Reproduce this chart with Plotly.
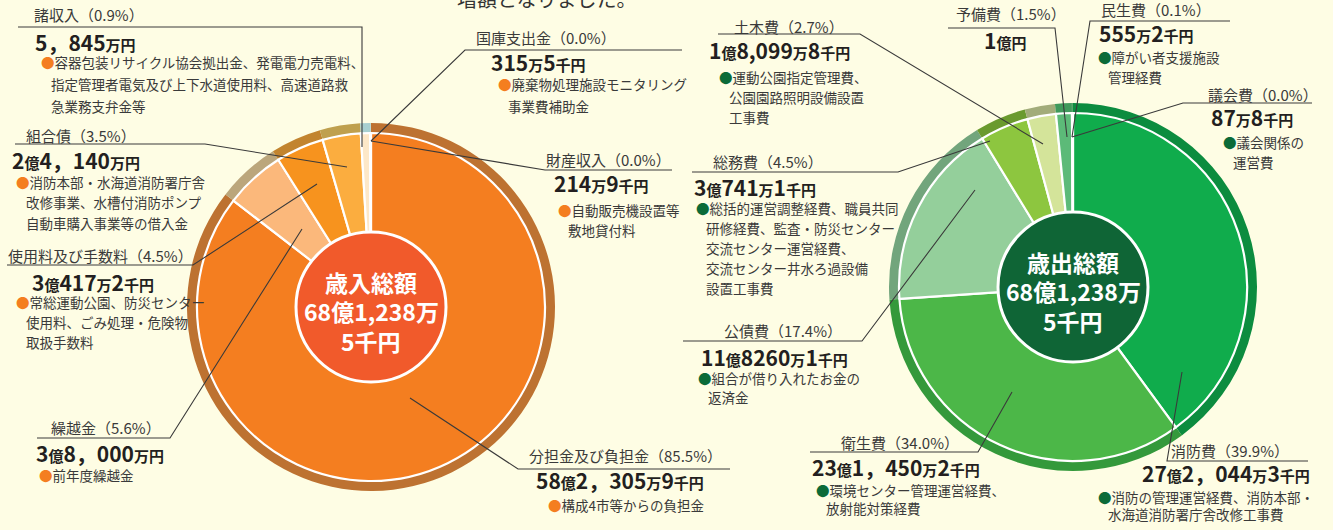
import plotly.graph_objects as go

W, H = 1333, 530
FONT = "Noto Sans CJK JP"

# ---------------- data (values in 万円) ----------------
rev_labels = ["分担金及び負担金", "繰越金", "使用料及び手数料", "組合債", "諸収入", "財産収入", "国庫支出金"]
rev_values = [582305.9, 38000.0, 30417.2, 24140.0, 5845.0, 214.9, 315.5]
rev_amounts = ["58億2，305万9千円", "3億8，000万円", "3億417万2千円", "2億4，140万円",
               "5，845万円", "214万9千円", "315万5千円"]
rev_notes = [
    ["構成4市等からの負担金"],
    ["前年度繰越金"],
    ["常総運動公園、防災センター", "使用料、ごみ処理・危険物", "取扱手数料"],
    ["消防本部・水海道消防署庁舎", "改修事業、水槽付消防ポンプ", "自動車購入事業等の借入金"],
    ["容器包装リサイクル協会拠出金、発電電力売電料、", "指定管理者電気及び上下水道使用料、高速道路救", "急業務支弁金等"],
    ["自動販売機設置等", "敷地貸付料"],
    ["廃棄物処理施設モニタリング", "事業費補助金"],
]
rev_total = ["歳入総額", "68億1,238万", "5千円"]

exp_labels = ["消防費", "衛生費", "公債費", "総務費", "土木費", "予備費", "民生費", "議会費"]
exp_values = [272044.3, 231450.2, 118260.1, 30741.1, 18099.8, 10000.0, 555.2, 87.8]
exp_amounts = ["27億2，044万3千円", "23億1，450万2千円", "11億8260万1千円", "3億741万1千円",
               "1億8,099万8千円", "1億円", "555万2千円", "87万8千円"]
exp_notes = [
    ["消防の管理運営経費、消防本部・", "水海道消防署庁舎改修工事費"],
    ["環境センター管理運営経費、", "放射能対策経費"],
    ["組合が借り入れたお金の", "返済金"],
    ["総括的運営調整経費、職員共同", "研修経費、監査・防災センター", "交流センター運営経費、",
     "交流センター井水ろ過設備", "設置工事費"],
    ["運動公園指定管理費、", "公園園路照明設備設置", "工事費"],
    [],
    ["障がい者支援施設", "管理経費"],
    ["議会関係の", "運営費"],
]
exp_total = ["歳出総額", "68億1,238万", "5千円"]

top_text = "増額となりました。"

# ---------------- styles ----------------
BG = "#fefde4"
rev_inner = ["#f47e20", "#fbb87b", "#f7931e", "#fbad3f", "#fde8c8", "#fde8c8", "#fde8c8"]
rev_ring = ["#bd7231", "#bba67c", "#c2842f", "#bfa04e", "#a7cfd0", "#a7cfd0", "#a7cfd0"]
exp_inner = ["#10ac4c", "#4cb748", "#94cf9b", "#8dc63f", "#d4e49a", "#5cba78", "#5cba78", "#5cba78"]
exp_ring = ["#0c8c3f", "#34993b", "#72a57c", "#6a9a2e", "#a2ac7a", "#3f9a5c", "#3f9a5c", "#3f9a5c"]

L_C = (371, 307)
R_C = (1073, 287)
R_OUT = 184
RING = 10
CENTER_R = 75


def X(px):
    return px / W


def Y(py):
    return 1 - py / H


def dom(c, r):
    cx, cy = c
    return dict(x=[X(cx - r), X(cx + r)], y=[Y(cy + r), Y(cy - r)])


fig = go.Figure()
for c, labels, vals, ring_cols, inner_cols in [
    (L_C, rev_labels, rev_values, rev_ring, rev_inner),
    (R_C, exp_labels, exp_values, exp_ring, exp_inner),
]:
    fig.add_trace(go.Pie(labels=labels, values=vals, sort=False, direction="clockwise", rotation=0,
                         hole=(R_OUT - RING) / R_OUT, domain=dom(c, R_OUT), textinfo="none",
                         marker=dict(colors=ring_cols, line=dict(width=0)), showlegend=False,
                         hoverinfo="label+percent"))
    fig.add_trace(go.Pie(labels=labels, values=vals, sort=False, direction="clockwise", rotation=0,
                         domain=dom(c, R_OUT - RING), textinfo="none",
                         marker=dict(colors=inner_cols, line=dict(color="white", width=2.2)),
                         showlegend=False, hoverinfo="label+percent"))

shapes = []
annotations = []

# center circles
for c, fill in [(L_C, "#f15a2b"), (R_C, "#0f6536")]:
    cx, cy = c
    shapes.append(dict(type="circle", xref="paper", yref="paper", layer="above",
                       x0=X(cx - CENTER_R), x1=X(cx + CENTER_R), y0=Y(cy + CENTER_R), y1=Y(cy - CENTER_R),
                       fillcolor=fill, line=dict(color="white", width=3)))


def add_text(x, y, text, size, color="#333333", anchor="left", valign="middle"):
    annotations.append(dict(x=X(x), y=Y(y), xref="paper", yref="paper", text=text, showarrow=False,
                            xanchor=anchor, yanchor=valign, align="left", borderpad=0,
                            font=dict(family=FONT, size=size, color=color)))


for c, lines in [(L_C, rev_total), (R_C, exp_total)]:
    cx, cy = c
    for t, dy in zip(lines, [-25, 4, 34]):
        add_text(cx, cy + dy, "<b>" + t + "</b>", 23, "white", anchor="center")


def amount_html(s):
    out = ""
    buf = ""
    big = None
    for ch in s:
        isbig = ch in "0123456789,，"
        if big is None or isbig == big:
            buf += ch
        else:
            out += '<span style="font-size:%dpx">%s</span>' % (21 if big else 15, buf)
            buf = ch
        big = isbig
    out += '<span style="font-size:%dpx">%s</span>' % (21 if big else 15, buf)
    return "<b>" + out + "</b>"


def pct(vals, i):
    return "%.1f" % (vals[i] / sum(vals) * 100)


# label placement: title(x,y), amount(x,y), notes(x,y0,dy), leader path points
rev_pos = [
    dict(t=(528, 455), a=(535, 480), n=(547, 505, 20), p=[(730, 469), (518, 469), (410, 398)]),
    dict(t=(50, 427), a=(35, 453), n=(38, 475, 20), p=[(37, 438), (170, 438), (302, 229)]),
    dict(t=(7, 255), a=(31, 282), n=(15, 302, 20), p=[(7, 265), (193, 265), (317, 184)]),
    dict(t=(25, 135), a=(11, 160), n=(15, 182, 20.5), p=[(15, 144), (205, 144), (347, 167)]),
    dict(t=(33, 15), a=(34, 42), n=(40, 62, 22), p=[(18, 27), (362, 27), (362, 147)]),
    dict(t=(545, 159), a=(553, 183), n=(557, 210, 20), p=[(672, 170), (545, 170), (371, 141)]),
    dict(t=(475, 38), a=(490, 62), n=(497, 84, 22), p=[(682, 50), (465, 50), (371, 141)]),
]
exp_pos = [
    dict(t=(1170, 450), a=(1141, 473), n=(1097, 497, 17), p=[(1308, 461), (1167, 461), (1182, 372)]),
    dict(t=(840, 442), a=(811, 467), n=(815, 490, 18), p=[(810, 452), (978, 452), (1012, 392)]),
    dict(t=(723, 330), a=(700, 357), n=(697, 378, 19), p=[(683, 341), (862, 341), (975, 190)]),
    dict(t=(712, 162), a=(693, 187), n=(695, 208, 20), p=[(692, 172), (898, 172), (990, 141)]),
    dict(t=(733, 27), a=(708, 50), n=(718, 77, 20), p=[(718, 34), (860, 34), (1043, 144)]),
    dict(t=(955, 14), a=(983, 40), n=(0, 0, 0), p=[(948, 28), (1055, 28), (1067, 137)]),
    dict(t=(1100, 10), a=(1098, 33), n=(1097, 57, 20), p=[(1230, 21), (1090, 21), (1072, 137)]),
    dict(t=(1207, 95), a=(1210, 117), n=(1222, 142, 20), p=[(1312, 103), (1183, 103), (1072, 137)]),
]

for labels, vals, amounts, notes, pos, bcol in [
    (rev_labels, rev_values, rev_amounts, rev_notes, rev_pos, "#f47e20"),
    (exp_labels, exp_values, exp_amounts, exp_notes, exp_pos, "#0b6b38"),
]:
    for i, lab in enumerate(labels):
        ps = pos[i]
        add_text(ps["t"][0], ps["t"][1], "%s（%s%%）" % (lab, pct(vals, i)), 15, "#3a3a3a")
        add_text(ps["a"][0], ps["a"][1], amount_html(amounts[i]), 15, "#231f20")
        nx, ny, ndy = ps["n"]
        for j, line in enumerate(notes[i]):
            if j == 0:
                txt = '<span style="color:%s">●</span>%s' % (bcol, line)
                add_text(nx, ny, txt, 13.5, "#3a3a3a")
            else:
                add_text(nx + 10, ny + j * ndy, line, 13.5, "#3a3a3a")
        pts = ps["p"]
        path = "M %f,%f " % (X(pts[0][0]), Y(pts[0][1])) + " ".join(
            "L %f,%f" % (X(px), Y(py)) for px, py in pts[1:])
        shapes.append(dict(type="path", xref="paper", yref="paper", layer="above", path=path,
                           line=dict(color="#3a3a3a", width=1.1)))

# clipped sentence at the top edge
add_text(456, 14, top_text, 20, "#333333", valign="bottom")

fig.update_layout(
    width=W, height=H,
    margin=dict(l=0, r=0, t=0, b=0),
    paper_bgcolor=BG, plot_bgcolor=BG,
    shapes=shapes, annotations=annotations,
    font=dict(family=FONT),
)

fig.write_html(
    "out.html",
    config={"displayModeBar": False},
    post_script="document.body.style.margin='0px';document.body.style.background='%s';" % BG,
)
